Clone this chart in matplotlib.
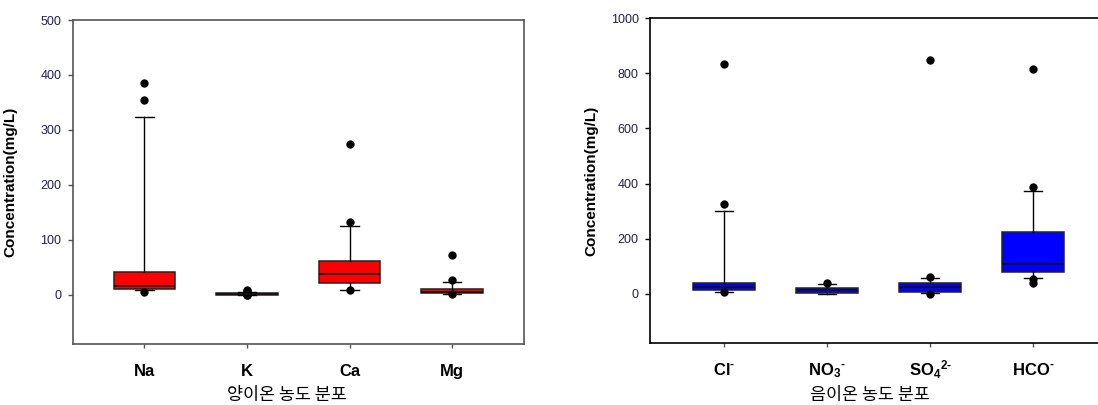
import matplotlib
matplotlib.use('Agg')
import matplotlib.pyplot as plt

plt.rcParams['font.family'] = ['Liberation Sans', 'Noto Sans CJK KR', 'DejaVu Sans']
plt.rcParams['mathtext.default'] = 'regular'

# cations (mg/L)
cation_names = ['Na', 'K', 'Ca', 'Mg']
cation_q1 = [11, 0.5, 21, 3]
cation_med = [16, 1.5, 38, 6]
cation_q3 = [41, 3, 62, 10]
cation_lo = [9, 0, 9, 2]
cation_hi = [324, 5, 126, 24]
cation_fliers = [[386, 354, 6], [9, 7, 0, -1], [274, 132, 9], [72, 27, 1]]

# anions (mg/L)
anion_names = ['Cl$^{\u2010}$', 'NO$_{3}$$^{\u2010}$', 'SO$_{4}$$^{2\u2010}$', 'HCO$^{\u2010}$']
anion_q1 = [12, 2, 8, 80]
anion_med = [24, 12, 26, 107]
anion_q3 = [40, 22, 38, 223]
anion_lo = [7, 0, 3, 58]
anion_hi = [302, 35, 58, 374]
anion_fliers = [[834, 326, 5], [40], [848, 62, 0], [816, 389, 52, 40]]


def make_stats(names, q1, med, q3, lo, hi, fliers):
    return [dict(label=n, q1=a, med=m, q3=b, whislo=l, whishi=h, fliers=f)
            for n, a, m, b, l, h, f in zip(names, q1, med, q3, lo, hi, fliers)]


def draw(ax, stats, color, spine_color):
    ax.bxp(stats, positions=range(1, len(stats) + 1), widths=0.6, capwidths=0.18,
           patch_artist=True, showfliers=True,
           boxprops=dict(facecolor=color, edgecolor='#222222', linewidth=1.1),
           medianprops=dict(color='#111111', linewidth=1.2),
           whiskerprops=dict(color='black', linewidth=1),
           capprops=dict(color='black', linewidth=1),
           flierprops=dict(marker='o', markerfacecolor='black', markeredgecolor='black',
                           markersize=5))
    for s in ax.spines.values():
        s.set_color(spine_color)
        s.set_linewidth(1.2)
    ax.tick_params(axis='y', direction='out', length=3.6, width=1, pad=4.5,
                   labelsize=9, labelcolor='#22224a', color=spine_color)
    ax.tick_params(axis='x', direction='out', length=3, width=1, pad=20,
                   labelsize=12, color='#555555')
    for lab in ax.get_xticklabels():
        lab.set_fontweight('bold')
        lab.set_verticalalignment('baseline')
    ax.set_ylabel('Concentration(mg/L)', fontsize=11, fontweight='bold')


fig = plt.figure(figsize=(10.98, 4.05), dpi=100)
ax1 = fig.add_axes([0.0662, 0.1499, 0.4110, 0.8007])
ax2 = fig.add_axes([0.5920, 0.1523, 0.4165, 0.8025])

draw(ax1, make_stats(cation_names, cation_q1, cation_med, cation_q3,
                     cation_lo, cation_hi, cation_fliers), '#ff0000', '#555555')
ax1.set_xlim(0.3, 4.7)
ax1.set_ylim(-90, 500)
ax1.set_yticks([0, 100, 200, 300, 400, 500])
ax1.set_xlabel('양이온 농도 분포', fontsize=12.5, family=['Noto Sans CJK KR'])
ax1.yaxis.set_label_coords(-0.122, 0.5)
ax1.xaxis.set_label_coords(0.474, -0.13)

draw(ax2, make_stats(anion_names, anion_q1, anion_med, anion_q3,
                     anion_lo, anion_hi, anion_fliers), '#0000ff', 'black')
ax2.set_xlim(0.28, 4.72)
ax2.set_ylim(-180, 1000)
ax2.set_yticks([0, 200, 400, 600, 800, 1000])
ax2.set_xlabel('음이온 농도 분포', fontsize=12.5, family=['Noto Sans CJK KR'])
ax2.yaxis.set_label_coords(-0.112, 0.5)
ax2.xaxis.set_label_coords(0.481, -0.13)

fig.savefig('out.png', dpi=100)
